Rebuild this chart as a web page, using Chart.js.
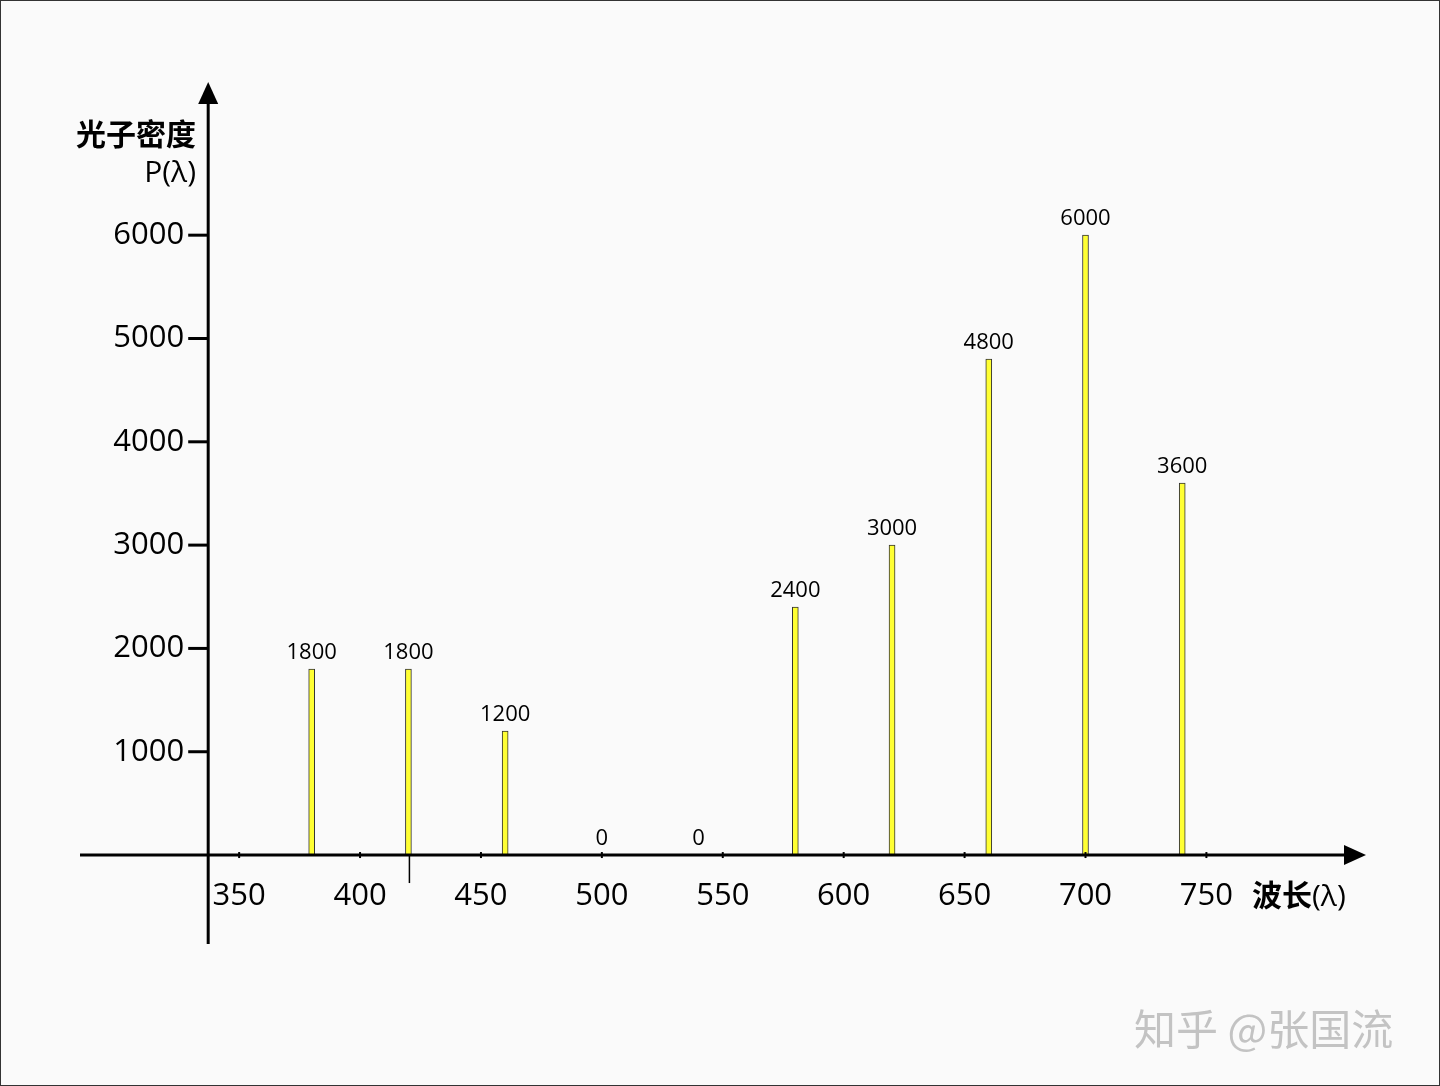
<!DOCTYPE html>
<html>
<head>
<meta charset="utf-8">
<script src="https://cdn.jsdelivr.net/npm/chart.js@4"></script>
<style>
  html, body { margin: 0; padding: 0; background: #fafafa; }
  #wrap { width: 1438px; height: 1084px; border: 1px solid #333; position: relative; }
</style>
</head>
<body>
<div id="wrap"><canvas id="c" width="1438" height="1084"></canvas></div>
<script>
const wavelengths = [380, 420, 460, 500, 540, 580, 620, 660, 700, 740];
const density = [1800, 1800, 1200, 0, 0, 2400, 3000, 4800, 6000, 3600];
const xTicks = [350, 400, 450, 500, 550, 600, 650, 700, 750];
const yTicks = [1000, 2000, 3000, 4000, 5000, 6000];

const FONT = '"Open Sans", "Noto Sans", sans-serif';

const axesPlugin = {
    id: 'axes',
    afterDatasetsDraw(chart) {
        const { ctx } = chart;
        const xs = chart.scales.x, ys = chart.scales.y;
        const x0 = xs.getPixelForValue(337.2);
        const y0 = ys.getPixelForValue(0);
        ctx.save();
        ctx.strokeStyle = '#000';
        ctx.fillStyle = '#000';
        ctx.lineWidth = 3;
        // x axis
        ctx.beginPath();
        ctx.moveTo(79, y0); ctx.lineTo(1345, y0); ctx.stroke();
        ctx.beginPath();
        ctx.moveTo(1365, y0); ctx.lineTo(1343, y0 - 10); ctx.lineTo(1343, y0 + 10); ctx.closePath(); ctx.fill();
        // y axis
        ctx.beginPath();
        ctx.moveTo(x0, 943); ctx.lineTo(x0, 100); ctx.stroke();
        ctx.beginPath();
        ctx.moveTo(x0, 81); ctx.lineTo(x0 - 10, 103); ctx.lineTo(x0 + 10, 103); ctx.closePath(); ctx.fill();

        // y ticks
        ctx.font = '31px ' + FONT;
        ctx.textAlign = 'right';
        ctx.textBaseline = 'middle';
        yTicks.forEach(v => {
            const y = ys.getPixelForValue(v);
            ctx.beginPath(); ctx.moveTo(x0 - 20, y); ctx.lineTo(x0, y); ctx.stroke();
            ctx.fillText(String(v), x0 - 24, y);
        });
        // x ticks
        ctx.textAlign = 'center';
        ctx.lineWidth = 2;
        xTicks.forEach(v => {
            const x = xs.getPixelForValue(v);
            ctx.beginPath(); ctx.moveTo(x, y0 - 3); ctx.lineTo(x, y0 + 3); ctx.stroke();
            ctx.fillText(String(v), x, y0 + 41);
        });
        // marker line under 420
        ctx.lineWidth = 1.5;
        const xm = xs.getPixelForValue(420) + 1;
        ctx.beginPath(); ctx.moveTo(xm, y0); ctx.lineTo(xm, y0 + 28); ctx.stroke();

        // bar labels
        ctx.font = '22px ' + FONT;
        ctx.textBaseline = 'alphabetic';
        wavelengths.forEach((w, i) => {
            const x = xs.getPixelForValue(w);
            const y = ys.getPixelForValue(density[i]);
            ctx.fillText(String(density[i]), x, y - 10);
        });

        // axis titles
        ctx.textAlign = 'right';
        ctx.font = 'bold 30px "Noto Sans CJK SC", sans-serif';
        ctx.fillText('光子密度', 195, 144);
        ctx.font = '30px ' + FONT;
        ctx.fillText('P(λ)', 195, 181);
        ctx.textAlign = 'left';
        ctx.font = 'bold 30px "Noto Sans CJK SC", sans-serif';
        ctx.fillText('波长', 1251, 905);
        const w1 = ctx.measureText('波长').width;
        ctx.font = '30px ' + FONT;
        ctx.fillText('(λ)', 1251 + w1, 905);

        // watermark
        ctx.fillStyle = 'rgba(150,150,150,0.55)';
        ctx.font = '42px "Noto Sans CJK SC", sans-serif';
        ctx.fillText('知乎 @张国流', 1133, 1044);
        ctx.restore();
    }
};

new Chart(document.getElementById('c'), {
    type: 'bar',
    data: {
        datasets: [{
            data: wavelengths.map((w, i) => ({ x: w, y: density[i] })),
            backgroundColor: '#ffff33',
            borderColor: '#333',
            borderWidth: 1,
            barThickness: 6
        }]
    },
    options: {
        responsive: false,
        animation: false,
        layout: { padding: { left: 80, right: 73, top: 82, bottom: 144 } },
        plugins: { legend: { display: false }, tooltip: { enabled: false } },
        scales: {
            x: { type: 'linear', offset: false, min: 284.6, max: 816, display: false },
            y: { min: -832, max: 7473, display: false }
        }
    },
    plugins: [axesPlugin]
});
</script>
</body>
</html>
